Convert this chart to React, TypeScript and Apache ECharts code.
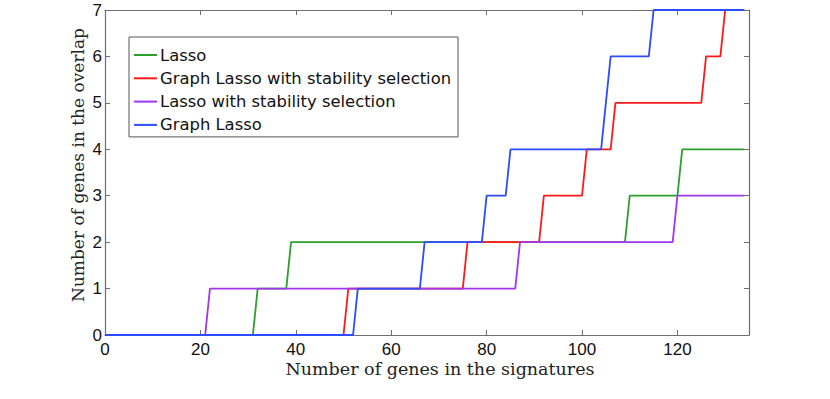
import React, { useEffect, useRef } from "react";
import * as echarts from "echarts";

const seriesNames = [
  "Lasso",
  "Graph Lasso with stability selection",
  "Lasso with stability selection",
  "Graph Lasso",
];
const seriesColors = ["#2ca02c", "#ff1a1a", "#a235f0", "#2b4cff"];

const lassoX = [0, 31, 32, 38, 39, 109, 110, 120, 121, 134];
const lassoY = [0, 0, 1, 1, 2, 2, 3, 3, 4, 4];

const glssX = [0, 50, 51, 75, 76, 91, 92, 100, 101, 106, 107, 125, 126, 129, 130, 134];
const glssY = [0, 0, 1, 1, 2, 2, 3, 3, 4, 4, 5, 5, 6, 6, 7, 7];

const lassoSsX = [0, 21, 22, 86, 87, 119, 120, 134];
const lassoSsY = [0, 0, 1, 1, 2, 2, 3, 3];

const glX = [0, 52, 53, 66, 67, 79, 80, 84, 85, 104, 105, 106, 114, 115, 134];
const glY = [0, 0, 1, 1, 2, 2, 3, 3, 4, 4, 5, 6, 6, 7, 7];

const xTicks = [0, 20, 40, 60, 80, 100, 120];
const yTicks = [0, 1, 2, 3, 4, 5, 6, 7];

const xTitle = "Number of genes in the signatures";
const yTitle = "Number of genes in the overlap";

const allX = [lassoX, glssX, lassoSsX, glX];
const allY = [lassoY, glssY, lassoSsY, glY];

export default function App() {
  const ref = useRef<HTMLDivElement>(null);
  useEffect(() => {
    if (!ref.current) return;
    const chart = echarts.init(ref.current, undefined, { renderer: "svg" });
    const axisColor = "#6e6e6e";
    const labelFont = { fontFamily: "Liberation Sans", fontSize: 17, color: "#111" };
    const serifFont = { fontFamily: "DejaVu Serif", fontSize: 17.5, color: "#222" };
    chart.setOption({
      animation: false,
      backgroundColor: "#ffffff",
      grid: { left: 105, right: 81, top: 10, bottom: 64, containLabel: false },
      legend: {
        orient: "vertical",
        left: 129,
        top: 37,
        data: seriesNames,
        icon: "rect",
        itemWidth: 23,
        itemHeight: 2,
        itemGap: 7.3,
        padding: [10, 7, 4, 5],
        borderColor: "#555",
        borderWidth: 1,
        backgroundColor: "#fff",
        textStyle: { fontFamily: "DejaVu Sans", fontSize: 16.4, color: "#111", lineHeight: 16, padding: [0, 0, 0, -2] },
      },
      xAxis: [
        {
          type: "value",
          min: 0,
          max: 135,
          interval: 20,
          axisLine: { show: true, onZero: false, lineStyle: { color: axisColor, width: 1.2 } },
          axisTick: { show: true, inside: true, length: 5, lineStyle: { color: axisColor } },
          axisLabel: {
            ...labelFont,
            margin: 6,
            customValues: xTicks,
            formatter: (v: number) => String(v),
          },
          splitLine: { show: false },
          name: xTitle,
          nameLocation: "middle",
          nameGap: 25,
          nameMoveOverlap: false,
          nameTextStyle: { ...serifFont, padding: [0, 0, 0, 26] },
        },
        {
          type: "value",
          position: "top",
          min: 0,
          max: 135,
          interval: 20,
          axisLine: { show: true, onZero: false, lineStyle: { color: axisColor, width: 1.2 } },
          axisTick: { show: true, inside: true, length: 5, lineStyle: { color: axisColor } },
          axisLabel: { show: false },
          splitLine: { show: false },
        },
      ],
      yAxis: [
        {
          type: "value",
          min: 0,
          max: 7,
          interval: 1,
          axisLine: { show: true, onZero: false, lineStyle: { color: axisColor, width: 1.2 } },
          axisTick: { show: true, inside: true, length: 5, lineStyle: { color: axisColor } },
          axisLabel: { ...labelFont, margin: 3, customValues: yTicks },
          splitLine: { show: false },
        },
        {
          type: "value",
          position: "right",
          min: 0,
          max: 7,
          interval: 1,
          axisLine: { show: true, onZero: false, lineStyle: { color: axisColor, width: 1.2 } },
          axisTick: { show: true, inside: true, length: 5, lineStyle: { color: axisColor } },
          axisLabel: { show: false },
          splitLine: { show: false },
        },
      ],
      graphic: [
        {
          type: "text",
          x: 78,
          y: 165,
          rotation: Math.PI / 2,
          style: {
            text: yTitle,
            fontFamily: "DejaVu Serif",
            fontSize: 17,
            fill: "#222",
            textAlign: "center",
            textVerticalAlign: "middle",
          },
        },
      ],
      series: seriesNames.map((name, i) => ({
        name,
        type: "line",
        xAxisIndex: 0,
        yAxisIndex: 0,
        showSymbol: false,
        symbol: "none",
        color: seriesColors[i],
        lineStyle: { width: 1.8, color: seriesColors[i] },
        z: 2 + i,
        data: allX[i].map((x, j) => [x, allY[i][j]]),
      })),
    });
    return () => chart.dispose();
  }, []);
  return (
    <div
      ref={ref}
      style={{ position: "absolute", left: 0, top: 0, width: 830, height: 399, background: "#fff" }}
    />
  );
}
